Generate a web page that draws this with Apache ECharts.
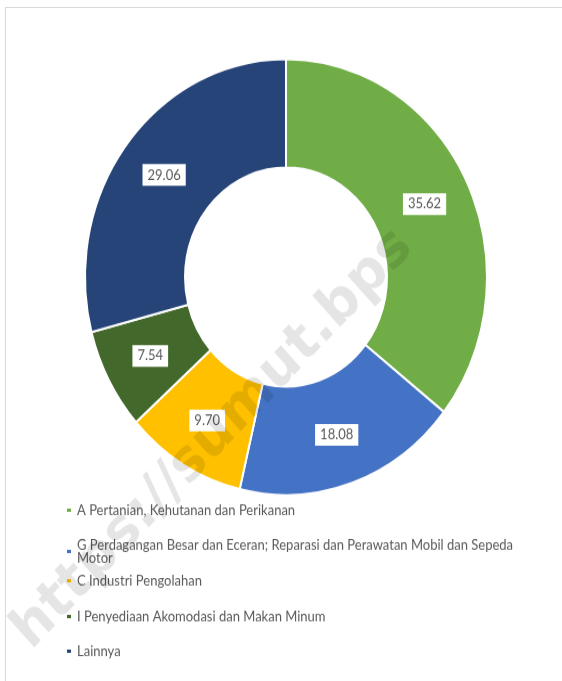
<!DOCTYPE html>
<html>
<head>
<meta charset="utf-8">
<script src="https://cdn.jsdelivr.net/npm/echarts@6/dist/echarts.min.js"></script>
<style>
  html, body { margin: 0; padding: 0; background: #fff; overflow: hidden; }
  #frame {
    position: absolute; left: 5px; top: 7px;
    width: 620px; height: 720px;
    border: 1px solid #d9d9d9;
  }
  /* the source picture is stretched vertically, so stretch the chart too */
  #chart {
    position: absolute; left: 0; top: 0;
    width: 562px; height: 628px;
    transform: scaleY(1.0844);
    transform-origin: 0 0;
  }
</style>
</head>
<body>
<div id="frame"></div>
<div id="chart"></div>
<script>
// data
const categories = [
    'A Pertanian, Kehutanan dan Perikanan',
    'G Perdagangan Besar dan Eceran; Reparasi dan Perawatan Mobil dan Sepeda Motor',
    'C Industri Pengolahan',
    'I Penyediaan Akomodasi dan Makan Minum',
    'Lainnya'
];
const shares = [35.62, 18.08, 9.70, 7.54, 29.06];
const colors = ['#70AD47', '#4472C4', '#FFC000', '#43682B', '#264478'];

// legend rows (pre-stretch y of each row)
const legendTops = [459, 491, 524, 557, 589];

const mychart = echarts.init(document.getElementById('chart'));

const legends = categories.map((name, i) => ({
    data: [name],
    orient: 'vertical',
    left: 60,
    top: legendTops[i],
    icon: 'rect',
    itemWidth: 6,
    itemHeight: 5,
    itemGap: 0,
    selectedMode: false,
    textStyle: {
        color: '#595959',
        fontFamily: 'Lato',
        fontSize: 13,
        lineHeight: 12,
        width: 455,
        overflow: 'break'
    }
}));

mychart.setOption({
    animation: false,
    color: colors,
    legend: legends,
    graphic: [
        {
            // watermark
            type: 'text',
            x: 213,
            y: 405,
            rotation: 44 * Math.PI / 180,
            z: 100,
            silent: true,
            style: {
                text: 'https://sumut.bps',
                fontFamily: 'DejaVu Sans',
                fontWeight: 'bold',
                fontSize: 53,
                fill: 'rgba(0,0,0,0.1)',
                align: 'center',
                verticalAlign: 'middle'
            }
        }
    ],
    series: [
        {
            type: 'pie',
            center: [286, 255.5],
            radius: [101, 201],
            startAngle: 90,
            clockwise: true,
            avoidLabelOverlap: false,
            itemStyle: {
                borderColor: '#fff',
                borderWidth: 2
            },
            label: {
                show: true,
                position: 'inside',
                formatter: (p) => p.value.toFixed(2),
                color: '#595959',
                fontFamily: 'Lato',
                fontSize: 13,
                backgroundColor: '#fff',
                padding: [4, 5, 3, 5]
            },
            labelLine: { show: false },
            emphasis: { disabled: true },
            data: categories.map((name, i) => ({ name: name, value: shares[i] }))
        }
    ]
});
</script>
</body>
</html>
